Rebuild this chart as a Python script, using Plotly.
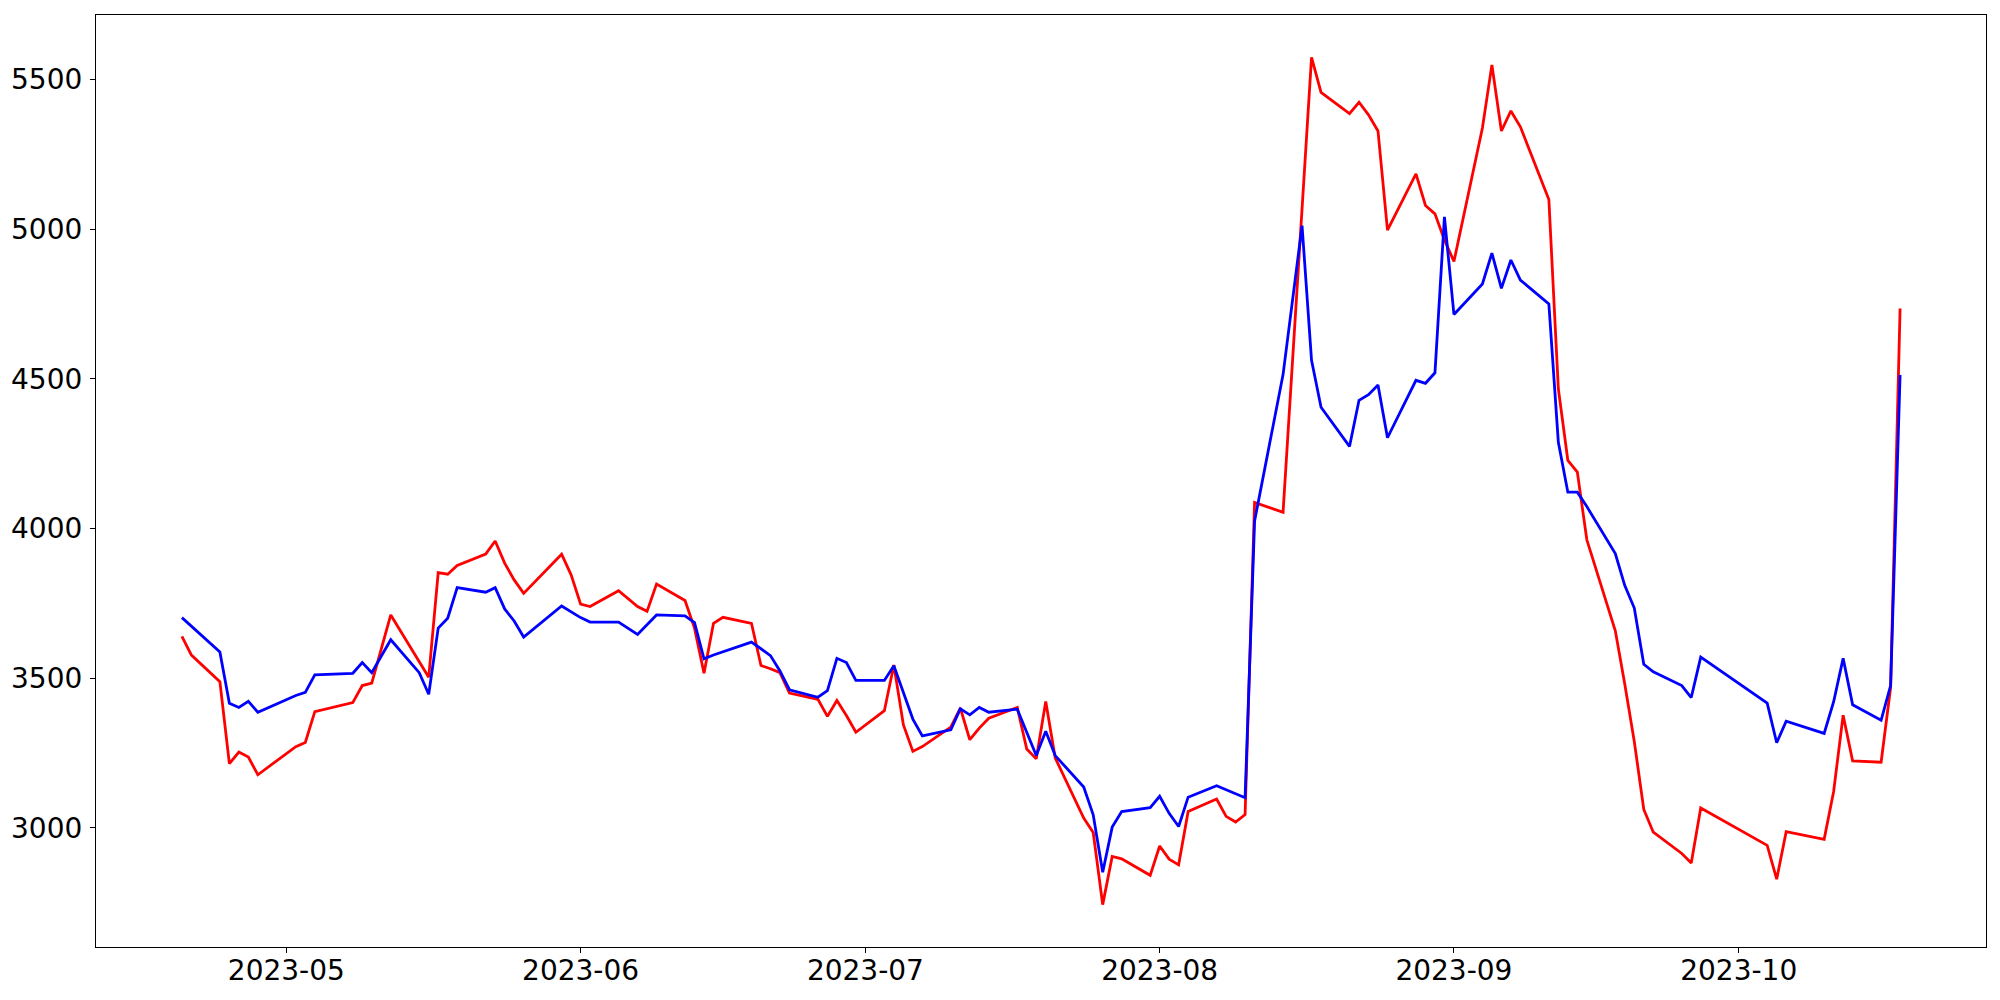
import pandas as pd
import plotly.graph_objects as go

# ---- data ----
red_dates = [
    "2023-04-20", "2023-04-21", "2023-04-24", "2023-04-25", "2023-04-26", "2023-04-27", "2023-04-28",
    "2023-05-02", "2023-05-03", "2023-05-04", "2023-05-08", "2023-05-09", "2023-05-10", "2023-05-12",
    "2023-05-16", "2023-05-17", "2023-05-18", "2023-05-19", "2023-05-22", "2023-05-23", "2023-05-24",
    "2023-05-25", "2023-05-26", "2023-05-30", "2023-05-31", "2023-06-01", "2023-06-02", "2023-06-05",
    "2023-06-07", "2023-06-08", "2023-06-09", "2023-06-12", "2023-06-13", "2023-06-14", "2023-06-15",
    "2023-06-16", "2023-06-19", "2023-06-20", "2023-06-21", "2023-06-22", "2023-06-23", "2023-06-26",
    "2023-06-27", "2023-06-28", "2023-06-29", "2023-06-30", "2023-07-03", "2023-07-04", "2023-07-05",
    "2023-07-06", "2023-07-07", "2023-07-10", "2023-07-11", "2023-07-12", "2023-07-13", "2023-07-14",
    "2023-07-17", "2023-07-18", "2023-07-19", "2023-07-20", "2023-07-21", "2023-07-24", "2023-07-25",
    "2023-07-26", "2023-07-27", "2023-07-28", "2023-07-31", "2023-08-01", "2023-08-02", "2023-08-03",
    "2023-08-04", "2023-08-07", "2023-08-08", "2023-08-09", "2023-08-10", "2023-08-11", "2023-08-14",
    "2023-08-17", "2023-08-18", "2023-08-21", "2023-08-22", "2023-08-23", "2023-08-24", "2023-08-25",
    "2023-08-28", "2023-08-29", "2023-08-30", "2023-08-31", "2023-09-01", "2023-09-04", "2023-09-05",
    "2023-09-06", "2023-09-07", "2023-09-08", "2023-09-11", "2023-09-12", "2023-09-13", "2023-09-14",
    "2023-09-15", "2023-09-18", "2023-09-19", "2023-09-20", "2023-09-21", "2023-09-22", "2023-09-25",
    "2023-09-26", "2023-09-27", "2023-10-04", "2023-10-05", "2023-10-06", "2023-10-10", "2023-10-11",
    "2023-10-12", "2023-10-13", "2023-10-16", "2023-10-17", "2023-10-18",
]
red_values = [
    3639, 3577, 3488, 3214, 3253, 3236, 3177,
    3271, 3285, 3388, 3418, 3475, 3483, 3711,
    3503, 3852, 3847, 3876, 3914, 3958, 3884,
    3828, 3783, 3914, 3845, 3747, 3739, 3792,
    3739, 3723, 3814, 3759, 3667, 3516, 3683,
    3703, 3683, 3542, 3531, 3518, 3450, 3429,
    3372, 3425, 3375, 3319, 3391, 3544, 3344,
    3255, 3271, 3336, 3400, 3294, 3333, 3366,
    3402, 3263, 3230, 3422, 3233, 3032, 2984,
    2743, 2904, 2896, 2841, 2939, 2895, 2876,
    3054, 3096, 3038, 3019, 3044, 4087, 4054,
    5574, 5457, 5386, 5424, 5382, 5328, 4997,
    5185, 5079, 5051, 4964, 4892, 5338, 5549,
    5328, 5395, 5342, 5099, 4466, 4227, 4188,
    3962, 3658, 3479, 3288, 3061, 2985, 2914,
    2882, 3066, 2941, 2828, 2987, 2961, 3121,
    3376, 3223, 3219, 3468, 4735,
]

blue_dates = [
    "2023-04-20", "2023-04-24", "2023-04-25", "2023-04-26", "2023-04-27", "2023-04-28",
    "2023-05-02", "2023-05-03", "2023-05-04", "2023-05-08", "2023-05-09", "2023-05-10", "2023-05-12",
    "2023-05-15", "2023-05-16", "2023-05-17", "2023-05-18", "2023-05-19", "2023-05-22", "2023-05-23",
    "2023-05-24", "2023-05-25", "2023-05-26", "2023-05-30", "2023-06-01", "2023-06-02", "2023-06-05",
    "2023-06-07", "2023-06-09", "2023-06-12", "2023-06-13", "2023-06-14", "2023-06-15", "2023-06-19",
    "2023-06-20", "2023-06-21", "2023-06-22", "2023-06-23", "2023-06-26", "2023-06-27", "2023-06-28",
    "2023-06-29", "2023-06-30", "2023-07-03", "2023-07-04", "2023-07-05", "2023-07-06", "2023-07-07",
    "2023-07-10", "2023-07-11", "2023-07-12", "2023-07-13", "2023-07-14", "2023-07-17", "2023-07-18",
    "2023-07-19", "2023-07-20", "2023-07-21", "2023-07-24", "2023-07-25", "2023-07-26", "2023-07-27",
    "2023-07-28", "2023-07-31", "2023-08-01", "2023-08-02", "2023-08-03", "2023-08-04", "2023-08-07",
    "2023-08-10", "2023-08-11", "2023-08-14", "2023-08-16", "2023-08-17", "2023-08-18", "2023-08-21",
    "2023-08-22", "2023-08-23", "2023-08-24", "2023-08-25", "2023-08-28", "2023-08-29", "2023-08-30",
    "2023-08-31", "2023-09-01", "2023-09-04", "2023-09-05", "2023-09-06", "2023-09-07", "2023-09-08",
    "2023-09-11", "2023-09-12", "2023-09-13", "2023-09-14", "2023-09-15", "2023-09-18", "2023-09-19",
    "2023-09-20", "2023-09-21", "2023-09-22", "2023-09-25", "2023-09-26", "2023-09-27", "2023-10-04",
    "2023-10-05", "2023-10-06", "2023-10-10", "2023-10-11", "2023-10-12", "2023-10-13", "2023-10-16",
    "2023-10-17", "2023-10-18",
]
blue_values = [
    3702, 3587, 3416, 3402, 3422, 3386,
    3442, 3452, 3511, 3516, 3552, 3518, 3628,
    3518, 3446, 3667, 3700, 3802, 3787, 3802,
    3731, 3691, 3637, 3741, 3702, 3687, 3687,
    3646, 3711, 3708, 3685, 3564, 3577, 3620,
    3598, 3575, 3524, 3461, 3436, 3458, 3566,
    3552, 3492, 3492, 3541, 3450, 3363, 3307,
    3327, 3397, 3377, 3402, 3386, 3396, 3318,
    3241, 3322, 3241, 3136, 3043, 2851, 3002,
    3054, 3067, 3105, 3048, 3004, 3102, 3140,
    3100, 4025, 4514, 5012, 4562, 4405, 4274,
    4428, 4447, 4479, 4303, 4495, 4485, 4520,
    5041, 4715, 4817, 4920, 4802, 4897, 4830,
    4750, 4288, 4121, 4121, 4073, 3916, 3809,
    3734, 3546, 3521, 3475, 3435, 3570, 3416,
    3284, 3356, 3315, 3421, 3566, 3411, 3359,
    3475, 4513,
]

y_ticks = [3000, 3500, 4000, 4500, 5000, 5500]

# ---- figure ----
red_x = pd.to_datetime(red_dates)
blue_x = pd.to_datetime(blue_dates)

fig = go.Figure()
fig.add_trace(go.Scatter(x=red_x, y=red_values, mode="lines",
                         line=dict(color="#ff0000", width=2.8), showlegend=False))
fig.add_trace(go.Scatter(x=blue_x, y=blue_values, mode="lines",
                         line=dict(color="#0000ff", width=2.8), showlegend=False))

# matplotlib-like 5% autoscale margins
xmin = min(red_x.min(), blue_x.min())
xmax = max(red_x.max(), blue_x.max())
xpad = (xmax - xmin) * 0.05
all_y = red_values + blue_values
ymin, ymax = min(all_y), max(all_y)
ypad = (ymax - ymin) * 0.05

axis_common = dict(
    showline=True, mirror=True, linecolor="black", linewidth=1.2,
    ticks="outside", ticklen=5, tickwidth=1.2, tickcolor="black",
    showgrid=False, zeroline=False, automargin=False,
    tickfont=dict(family="DejaVu Sans", size=28, color="black"),
)

fig.update_layout(
    width=2000, height=1000,
    margin=dict(l=88, r=22, t=7, b=61, pad=0),
    paper_bgcolor="white", plot_bgcolor="white",
    xaxis=dict(range=[xmin - xpad, xmax + xpad], type="date",
               tick0="2023-05-01", dtick="M1", tickformat="%Y-%m",
               ticklabelstandoff=-7, **axis_common),
    yaxis=dict(range=[ymin - ypad, ymax + ypad], tickvals=y_ticks,
               ticktext=[str(v) for v in y_ticks], ticklabelstandoff=2,
               **axis_common),
)

fig.write_html("out.html")
